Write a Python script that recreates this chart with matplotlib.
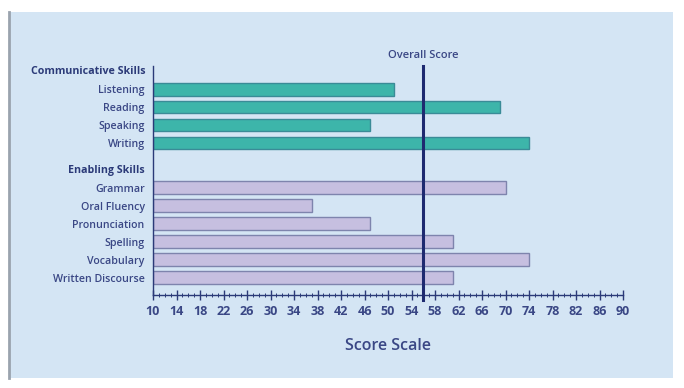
import matplotlib
matplotlib.use("Agg")
import matplotlib.pyplot as plt
from matplotlib.patches import Rectangle
from matplotlib.lines import Line2D
import numpy as np

comm_skills = ["Listening", "Reading", "Speaking", "Writing"]
comm_scores = [51, 69, 47, 74]
enab_skills = ["Grammar", "Oral Fluency", "Pronunciation", "Spelling", "Vocabulary", "Written Discourse"]
enab_scores = [70, 37, 47, 61, 74, 61]
overall_score = 56
tick_labels = list(range(10, 91, 4))

BG = "#d4e5f4"
NAVY = "#2b3a78"
TEXT = "#3a4785"
TEAL = "#3db5aa"
TEAL_EDGE = "#3a8b97"
PURPLE = "#c6bfe0"
PURPLE_EDGE = "#7e84ad"

plt.rcParams['font.family'] = ['Open Sans', 'DejaVu Sans']

fig = plt.figure(figsize=(6.84, 3.88), dpi=100)
fig.patch.set_facecolor("white")
# panel
fig.patches.append(Rectangle((10/684, 10/388), (673-10)/684, (376-10)/388,
                             transform=fig.transFigure, facecolor=BG, edgecolor="none", zorder=-2))
fig.lines.append(Line2D([9/684, 9/684], [10/388, 376/388], transform=fig.transFigure,
                        color="#9aa3ae", lw=2, zorder=-1))

ax = fig.add_axes([153/684, (388-295)/388, (623-153)/684, (295-66)/388])
ax.set_facecolor("none")

comm_pos = [1, 2, 3, 4]
enab_pos = [6.5, 7.5, 8.5, 9.5, 10.5, 11.5]
h = 0.72
ax.barh(comm_pos, [s - 10 for s in comm_scores], left=10, height=h, color=TEAL,
        edgecolor=TEAL_EDGE, linewidth=1.0, zorder=2)
ax.barh(enab_pos, [s - 10 for s in enab_scores], left=10, height=h, color=PURPLE,
        edgecolor=PURPLE_EDGE, linewidth=1.0, zorder=2)

ax.set_xlim(10, 90)
ax.set_ylim(12.45, -0.28)

ax.axvline(overall_score, ymin=-0.02, ymax=1.0, color="#1e2a70", lw=2.2, zorder=3, clip_on=False)
ax.text(overall_score, -0.85, "Overall Score", ha="center", va="center", fontsize=8,
        fontweight="semibold", color=TEXT)

ax.set_yticks(comm_pos + enab_pos)
ax.set_yticklabels(comm_skills + enab_skills, fontsize=7.7, color=TEXT, fontweight="semibold")
ax.tick_params(axis="y", length=0, pad=6)
ax.text(-0.017, 0, "Communicative Skills", transform=ax.get_yaxis_transform(), ha="right",
        va="center", fontsize=7.7, fontweight="bold", color=NAVY)
ax.text(-0.017, 5.55, "Enabling Skills", transform=ax.get_yaxis_transform(), ha="right",
        va="center", fontsize=7.7, fontweight="bold", color=NAVY)

ax.set_xticks(tick_labels)
ax.set_xticklabels([str(t) for t in tick_labels], fontsize=9, fontweight="bold", color=TEXT)
ax.set_xticks(np.arange(10, 91, 1), minor=True)
ax.tick_params(axis="x", which="major", direction="inout", length=7, width=1, color=NAVY, pad=4)
ax.tick_params(axis="x", which="minor", direction="inout", length=3, width=0.7, color=NAVY)
ax.set_xlabel("Score Scale", fontsize=11.5, color=TEXT, fontweight="semibold", labelpad=14)

for s in ["top", "right"]:
    ax.spines[s].set_visible(False)
ax.spines["left"].set_color(NAVY)
ax.spines["bottom"].set_color(NAVY)
ax.spines["left"].set_linewidth(1.0)
ax.spines["bottom"].set_linewidth(1.0)

fig.savefig("out.png", dpi=100)
